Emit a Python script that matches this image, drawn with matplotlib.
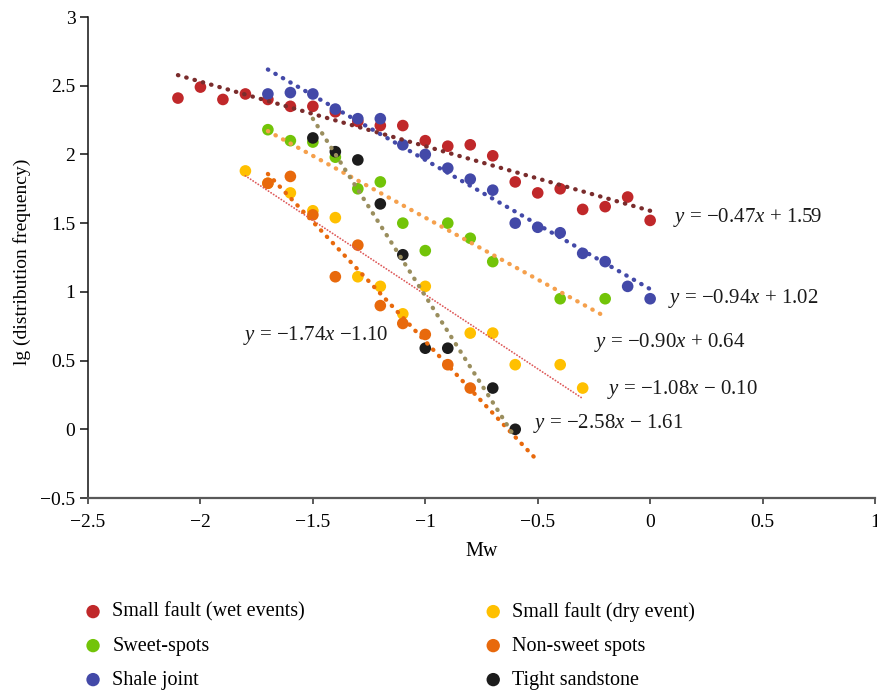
import matplotlib
matplotlib.use("Agg")
import numpy as np
import matplotlib.pyplot as plt
from matplotlib.ticker import MultipleLocator, FuncFormatter

plt.rcParams['font.family'] = ['Liberation Serif', 'DejaVu Serif']
plt.rcParams['mathtext.fontset'] = 'custom'
plt.rcParams['mathtext.rm'] = 'Liberation Serif'
plt.rcParams['mathtext.it'] = 'Liberation Serif:italic'

# --- magnitude / lg(frequency) data per rock type ---
wet_mw = [-2.1, -2.0, -1.9, -1.8, -1.7, -1.6, -1.5, -1.4, -1.3, -1.2, -1.1,
          -1.0, -0.9, -0.8, -0.7, -0.6, -0.5, -0.4, -0.3, -0.2, -0.1, 0.0]
wet_lg = [2.41, 2.49, 2.40, 2.44, 2.40, 2.35, 2.35, 2.31, 2.24, 2.21, 2.21,
          2.10, 2.06, 2.07, 1.99, 1.80, 1.72, 1.75, 1.60, 1.62, 1.69, 1.52]

sweet_mw = [-1.7, -1.6, -1.5, -1.4, -1.3, -1.2, -1.1, -1.0, -0.9, -0.8, -0.7, -0.4, -0.2]
sweet_lg = [2.18, 2.10, 2.09, 1.98, 1.75, 1.80, 1.50, 1.30, 1.50, 1.39, 1.22, 0.95, 0.95]

shale_mw = [-1.7, -1.6, -1.5, -1.4, -1.3, -1.2, -1.1, -1.0, -0.9, -0.8, -0.7,
            -0.6, -0.5, -0.4, -0.3, -0.2, -0.1, 0.0]
shale_lg = [2.44, 2.45, 2.44, 2.33, 2.26, 2.26, 2.07, 2.00, 1.90, 1.82, 1.74,
            1.50, 1.47, 1.43, 1.28, 1.22, 1.04, 0.95]

dry_mw = [-1.8, -1.7, -1.6, -1.5, -1.4, -1.3, -1.2, -1.1, -1.0, -0.8, -0.7, -0.6, -0.4, -0.3]
dry_lg = [1.88, 1.79, 1.72, 1.59, 1.54, 1.11, 1.04, 0.84, 1.04, 0.70, 0.70, 0.47, 0.47, 0.30]

nonsweet_mw = [-1.7, -1.6, -1.5, -1.4, -1.3, -1.2, -1.1, -1.0, -0.9, -0.8]
nonsweet_lg = [1.79, 1.84, 1.56, 1.11, 1.34, 0.90, 0.77, 0.69, 0.47, 0.30]

tight_mw = [-1.5, -1.4, -1.3, -1.2, -1.1, -1.0, -0.9, -0.7, -0.6]
tight_lg = [2.12, 2.02, 1.96, 1.64, 1.27, 0.59, 0.59, 0.30, 0.00]

series_names = ["Small fault (wet events)", "Sweet-spots", "Shale joint",
                "Small fault (dry event)", "Non-sweet spots", "Tight sandstone"]

# linear fits (slope, intercept) and the Mw span each fit line covers
fit_slope = [-0.47, -0.90, -0.94, -1.08, -1.74, -2.58]
fit_icept = [1.59, 0.64, 1.02, -0.10, -1.10, -1.61]
fit_from = [-2.1, -1.7, -1.7, -1.8, -1.7, -1.5]
fit_to = [0.0, -0.2, 0.0, -0.3, -0.5, -0.6]
fit_labels = ["$y$ = \u22120.47$x$ + 1.59", "$y$ = \u22120.90$x$ + 0.64",
              "$y$ = \u22120.94$x$ + 1.02", "$y$ = \u22121.08$x$ \u2212 0.10",
              "$y$ = \u22121.74$x$ \u22121.10", "$y$ = \u22122.58$x$ \u2212 1.61"]
label_xy = [(0.10, 1.54), (-0.25, 0.63), (0.08, 0.95), (-0.19, 0.29),
            (-1.81, 0.68), (-0.52, 0.04)]

marker_colors = ["#C0282A", "#72C408", "#4349A8", "#FFC000", "#E8690C", "#1C1C1C"]
line_colors = ["#7A2C2C", "#F5A04C", "#4349A8", "#DE5A5A", "#E8690C", "#9A8E5E"]
line_widths = [3.1, 3.1, 3.1, 1.3, 3.1, 3.1]

xs = [wet_mw, sweet_mw, shale_mw, dry_mw, nonsweet_mw, tight_mw]
ys = [wet_lg, sweet_lg, shale_lg, dry_lg, nonsweet_lg, tight_lg]

fig = plt.figure(figsize=(8.77, 6.9), dpi=100)
ax = fig.add_axes([88 / 877, 1 - 498 / 690, (875 - 88) / 877, (498 - 17) / 690])

handles = []
for x, y, c, name in zip(xs, ys, marker_colors, series_names):
    h = ax.scatter(x, y, s=70, color=c, edgecolors='none', zorder=2, label=name)
    handles.append(h)

for k in range(6):
    xx = np.array([fit_from[k], fit_to[k]])
    yy = fit_slope[k] * xx + fit_icept[k]
    gap = 1.9 if line_widths[k] > 2 else 1.6
    ax.plot(xx, yy, color=line_colors[k], lw=line_widths[k],
            linestyle=(0, (0.1, gap)), dash_capstyle='round',
            solid_capstyle='round', zorder=3)
    ax.text(label_xy[k][0], label_xy[k][1], fit_labels[k], fontsize=15,
            ha='left', va='center', color='#1a1a1a', zorder=4)

ax.set_xlim(-2.5, 1)
ax.set_ylim(-0.5, 3)
ax.xaxis.set_major_locator(MultipleLocator(0.5))
ax.yaxis.set_major_locator(MultipleLocator(0.5))
fmt = FuncFormatter(lambda v, _: f"{v:g}".replace('-', '\u2212'))
ax.xaxis.set_major_formatter(fmt)
ax.yaxis.set_major_formatter(fmt)

for side in ('top', 'right'):
    ax.spines[side].set_visible(False)
ax.spines['left'].set_color('#111111')
ax.spines['left'].set_linewidth(1.1)
ax.spines['bottom'].set_color('#595959')
ax.spines['bottom'].set_linewidth(1.6)
ax.tick_params(axis='y', direction='out', length=6, width=1.1, color='#111111',
               labelsize=14, pad=3)
ax.tick_params(axis='x', direction='out', length=4.5, width=1.4, color='#595959',
               labelsize=14, pad=7)

ax.set_xlabel("Mw", fontsize=14.5)
ax.xaxis.set_label_coords(0.5, (498 - 542) / (498 - 17))
fig.text(22 / 877, 1 - 262 / 690, "lg (distribution frequency)", rotation=90,
         ha='center', va='center', fontsize=14)

fig.legend(handles=handles, ncol=2, loc='upper left',
           bbox_to_anchor=(87 / 877, 1 - 602 / 690), frameon=False,
           fontsize=14.5, handlelength=0.6, handletextpad=0.65,
           columnspacing=9.05, labelspacing=0.74, borderaxespad=0,
           borderpad=0, markerscale=1.15)

fig.savefig("out.png", dpi=100)
